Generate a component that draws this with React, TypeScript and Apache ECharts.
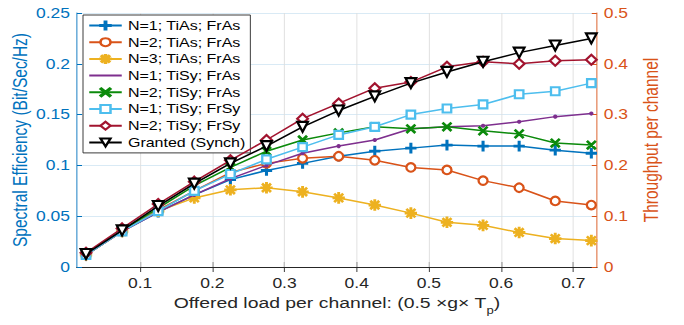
import React, { useEffect, useRef } from "react";
import * as echarts from "echarts";

const offeredLoad = [0.025, 0.075, 0.125, 0.175, 0.225, 0.275, 0.325, 0.375, 0.425, 0.475, 0.525, 0.575, 0.625, 0.675, 0.725];

const n1TiAsFrAs = [0.012, 0.035, 0.054, 0.071, 0.086, 0.095, 0.102, 0.109, 0.114, 0.117, 0.120, 0.119, 0.119, 0.115, 0.112];
const n2TiAsFrAs = [0.012, 0.035, 0.056, 0.075, 0.093, 0.102, 0.107, 0.109, 0.105, 0.098, 0.0955, 0.085, 0.078, 0.065, 0.061];
const n3TiAsFrAs = [0.012, 0.035, 0.055, 0.068, 0.076, 0.078, 0.074, 0.068, 0.061, 0.053, 0.044, 0.041, 0.034, 0.028, 0.026];
const n1TiSyFrAs = [0.012, 0.035, 0.054, 0.071, 0.087, 0.100, 0.112, 0.119, 0.125, 0.136, 0.138, 0.139, 0.143, 0.148, 0.151];
const n2TiSyFrAs = [0.013, 0.036, 0.058, 0.080, 0.098, 0.114, 0.125, 0.132, 0.138, 0.136, 0.138, 0.134, 0.131, 0.122, 0.120];
const n1TiSyFrSy = [0.012, 0.035, 0.055, 0.075, 0.0915, 0.106, 0.118, 0.130, 0.138, 0.150, 0.156, 0.160, 0.170, 0.173, 0.181];
const n2TiSyFrSy = [0.014, 0.038, 0.062, 0.084, 0.105, 0.125, 0.146, 0.161, 0.176, 0.182, 0.197, 0.202, 0.200, 0.203, 0.204];
const grantedSynch = [0.0128, 0.036, 0.060, 0.082, 0.102, 0.119, 0.138, 0.154, 0.168, 0.181, 0.192, 0.202, 0.211, 0.218, 0.225];

const xTicks = [0.1, 0.2, 0.3, 0.4, 0.5, 0.6, 0.7];
const leftTicks = [0, 0.05, 0.1, 0.15, 0.2, 0.25];
const rightTicks = [0, 0.1, 0.2, 0.3, 0.4, 0.5];

const seriesNames = [
  "N=1; TiAs; FrAs",
  "N=2; TiAs; FrAs",
  "N=3; TiAs; FrAs",
  "N=1; TiSy; FrAs",
  "N=2; TiSy; FrAs",
  "N=1; TiSy; FrSy",
  "N=2; TiSy; FrSy",
  "Granted (Synch)",
];

// the reference figure is stretched horizontally; reproduce with a CSS scaleX
const S = 1.25;
const W = 684 / S;
const H = 325;

const FONT = "'Liberation Sans', Arial, Helvetica, sans-serif";
const PLUS = "path://M4.3,0h1.4v10h-1.4z M0,4.3h10v1.4h-10z";
const CROSS = "path://M0,0.9L0.9,0L10,9.1L9.1,10z M9.1,0L10,0.9L0.9,10L0,9.1z";
const STAR = "path://M4.45,0h1.1v10h-1.1z M0,4.45h10v1.1h-10z M1,1.7L1.7,1L9,8.3L8.3,9z M8.3,1L9,1.7L1.7,9L1,8.3z";

export default function App() {
  const ref = useRef<HTMLDivElement>(null);
  useEffect(() => {
    if (!ref.current) return;
    const chart = echarts.init(ref.current, null, { renderer: "svg" });
    const pairs = (ys: number[]) => offeredLoad.map((x, i) => [x, ys[i]]);
    const styles = [
      { data: n1TiAsFrAs, color: "#0072BD", symbol: PLUS, size: 9, rotate: 0 },
      { data: n2TiAsFrAs, color: "#D95319", symbol: "emptyCircle", size: 8.5, rotate: 0 },
      { data: n3TiAsFrAs, color: "#EDB120", symbol: STAR, size: 10, rotate: 0 },
      { data: n1TiSyFrAs, color: "#7E2F8E", symbol: "circle", size: 2.5, rotate: 0 },
      { data: n2TiSyFrAs, color: "#0B8A0B", symbol: CROSS, size: 8, rotate: 0 },
      { data: n1TiSyFrSy, color: "#4DBEEE", symbol: "emptyRect", size: 8, rotate: 0 },
      { data: n2TiSyFrSy, color: "#A2142F", symbol: "emptyDiamond", size: 10, rotate: 0 },
      { data: grantedSynch, color: "#000000", symbol: "emptyTriangle", size: 10, rotate: 180 },
    ];
    const series: any[] = styles.map((s, i) => ({
      name: seriesNames[i],
      type: "line",
      data: pairs(s.data),
      symbol: s.symbol,
      symbolSize: [s.size * 0.85, s.size],
      symbolRotate: s.rotate,
      showAllSymbol: true,
      lineStyle: { color: s.color, width: 1.5 },
      itemStyle: { color: s.color, borderColor: s.color, borderWidth: 1.5 },
      z: 3 + i,
    }));
    // vertical grid lines through the x scale
    series[0].markLine = {
      silent: true,
      symbol: "none",
      label: { show: false },
      lineStyle: { color: "#DEDEDE", width: 0.8, type: "solid" },
      z: 1,
      data: xTicks.map((v) => ({ xAxis: v })),
    };
    const legendData = seriesNames.map((n, i) =>
      i === 3 ? { name: n, itemStyle: { opacity: 0 } } : { name: n }
    );
    chart.setOption({
      animation: false,
      backgroundColor: "#ffffff",
      textStyle: { fontFamily: FONT },
      grid: { left: 77 / S, right: 87 / S, top: 13, bottom: 58, containLabel: false, outerBoundsMode: "none" },
      legend: {
        orient: "vertical",
        left: 83 / S,
        top: 15,
        backgroundColor: "#ffffff",
        borderColor: "#262626",
        borderWidth: 0.8,
        borderRadius: 0,
        padding: [4, 4, 4, 4],
        itemGap: 3.7,
        itemWidth: 26,
        itemHeight: 10,
        textStyle: { fontSize: 12.8, color: "#000000", fontFamily: FONT },
        data: legendData,
      },
      xAxis: [
        {
          type: "value",
          min: 0.0125,
          max: 0.7325,
          position: "bottom",
          name: "{a|Offered load per channel: (0.5 \u00d7g\u00d7 T}{s|p}{a|)}",
          nameLocation: "middle",
          nameGap: 13,
          nameTextStyle: {
            rich: {
              a: { fontSize: 15.5, color: "#262626", fontFamily: FONT, lineHeight: 18, verticalAlign: "top" },
              s: { fontSize: 10.5, color: "#262626", fontFamily: FONT, lineHeight: 11, padding: [10, 0, 0, 0], verticalAlign: "top" },
            },
          },
          axisLine: { show: true, lineStyle: { color: "#262626", width: 1 } },
          axisTick: { show: true, inside: true, length: 5, customValues: xTicks, lineStyle: { color: "#262626", width: 0.8 } },
          axisLabel: { show: true, customValues: xTicks, fontSize: 14, color: "#262626", margin: 9, fontFamily: FONT },
          splitLine: { show: false },
        },
        {
          type: "value",
          min: 0.0125,
          max: 0.7325,
          position: "top",
          axisLine: { show: true, lineStyle: { color: "#262626", width: 1 } },
          axisTick: { show: true, inside: true, length: 5, customValues: xTicks, lineStyle: { color: "#262626", width: 0.8 } },
          axisLabel: { show: false },
          splitLine: { show: false },
        },
      ],
      yAxis: [
        {
          type: "value",
          min: 0,
          max: 0.25,
          interval: 0.05,
          position: "left",
          name: "Spectral Efficiency (Bit/Sec/Hz)",
          nameLocation: "middle",
          nameGap: 37.5,
          nameMoveOverlap: false,
          nameTextStyle: { fontSize: 15.5, color: "#0072BD", fontFamily: FONT },
          axisLine: { show: true, lineStyle: { color: "#0072BD", width: 0.8 } },
          axisTick: { show: true, inside: true, length: 4, lineStyle: { color: "#0072BD" } },
          axisLabel: {
            fontSize: 14,
            color: "#0072BD",
            margin: 5.6,
            fontFamily: FONT,
            formatter: (v: number) => {
              const t = leftTicks.find((k) => Math.abs(k - v) < 1e-9);
              return t === undefined ? "" : String(t);
            },
          },
          splitLine: { show: true, lineStyle: { color: "#D9EAF5", width: 1 } },
        },
        {
          type: "value",
          min: 0,
          max: 0.5,
          interval: 0.1,
          position: "right",
          name: "Throughput per channel",
          nameLocation: "middle",
          nameGap: 31,
          nameTextStyle: { fontSize: 15.5, color: "#D95319", fontFamily: FONT },
          axisLine: { show: true, lineStyle: { color: "#D95319", width: 0.8 } },
          axisTick: { show: true, inside: true, length: 4, lineStyle: { color: "#D95319" } },
          axisLabel: {
            fontSize: 14,
            color: "#D95319",
            margin: 5.6,
            fontFamily: FONT,
            formatter: (v: number) => {
              const t = rightTicks.find((k) => Math.abs(k - v) < 1e-9);
              return t === undefined ? "" : String(t);
            },
          },
          splitLine: { show: false },
        },
      ],
      series,
    });
    return () => chart.dispose();
  }, []);
  return (
    <div
      ref={ref}
      style={{
        position: "fixed",
        left: 0,
        top: 0,
        width: W,
        height: H,
        background: "#fff",
        transform: `scaleX(${S})`,
        transformOrigin: "0 0",
      }}
    />
  );
}
